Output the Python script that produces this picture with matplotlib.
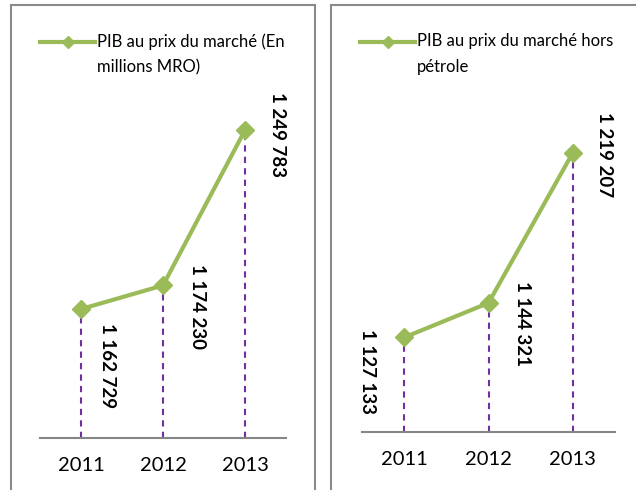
import matplotlib.pyplot as plt
from matplotlib.patches import Rectangle
from matplotlib.lines import Line2D

# data
years = ['2011', '2012', '2013']
pib_total = [1162729, 1174230, 1249783]
pib_hors_petrole = [1127133, 1144321, 1219207]
label_total = 'PIB au prix du marché (En\nmillions MRO)'
label_hp = 'PIB au prix du marché hors\npétrole'

green = '#9BBB59'
purple = '#7030A0'
W, H = 636, 490

plt.rcParams['font.family'] = ['Lato', 'DejaVu Sans']

fig = plt.figure(figsize=(W / 100, H / 100), dpi=100)


def fmt(v):
    return '{:,}'.format(v).replace(',', ' ')


def panel(box, ax_px, ylim, values, label, offsets, leg_x):
    # outer frame of the panel (pixel coords, y from top)
    bx0, bx1, by0 = box
    fig.add_artist(Rectangle((bx0 / W, -0.1), (bx1 - bx0) / W, 1.1 - by0 / H,
                             transform=fig.transFigure, fill=False,
                             edgecolor='#8a8a8a', lw=1.5))
    x0, x1, ytop, ybot = ax_px
    ax = fig.add_axes([x0 / W, 1 - ybot / H, (x1 - x0) / W, (ybot - ytop) / H])
    x = range(len(values))
    ax.vlines(x, ylim[0], values, colors=purple, linestyles=(0, (3, 2.5)), lw=1.5)
    ax.plot(x, values, color=green, lw=3, marker='D', ms=9)
    for xi, v, off in zip(x, values, offsets):
        ax.annotate(fmt(v), (xi, v), xytext=off, textcoords='offset pixels',
                    rotation=270, ha='center', va='center',
                    fontsize=13.5, fontweight='bold')
    ax.set_xlim(-0.5, len(values) - 0.5)
    ax.set_ylim(*ylim)
    ax.set_xticks(list(x))
    ax.set_xticklabels(years, fontsize=14.5)
    ax.tick_params(length=0, pad=14)
    ax.set_yticks([])
    for s in ['left', 'right', 'top']:
        ax.spines[s].set_visible(False)
    ax.spines['bottom'].set_color('#868686')
    ax.spines['bottom'].set_linewidth(1.5)
    ax.patch.set_alpha(0)

    # legend: line sample + wrapped label
    ly = 1 - 42 / H
    fig.add_artist(Line2D([leg_x / W, (leg_x + 55) / W], [ly, ly], color=green,
                          lw=3, transform=fig.transFigure))
    fig.add_artist(Line2D([(leg_x + 27.5) / W], [ly], color=green, marker='D',
                          ms=6, transform=fig.transFigure))
    fig.text((leg_x + 57) / W, 1 - 33 / H, label, fontsize=12, ha='left',
             va='top', linespacing=1.75)
    return ax


ax1 = panel((11, 315, 5), (40, 286, 68, 438), (1100000, 1280000), pib_total,
            label_total, [(27, -57), (35, -21), (32, -4)], 40)
ax2 = panel((331, 700, 5), (362, 615, 111, 432), (1080000, 1240000), pib_hors_petrole,
            label_hp, [(-37, -34), (34, -21), (32, -2)], 360)

fig.savefig('out.png', dpi=100)
